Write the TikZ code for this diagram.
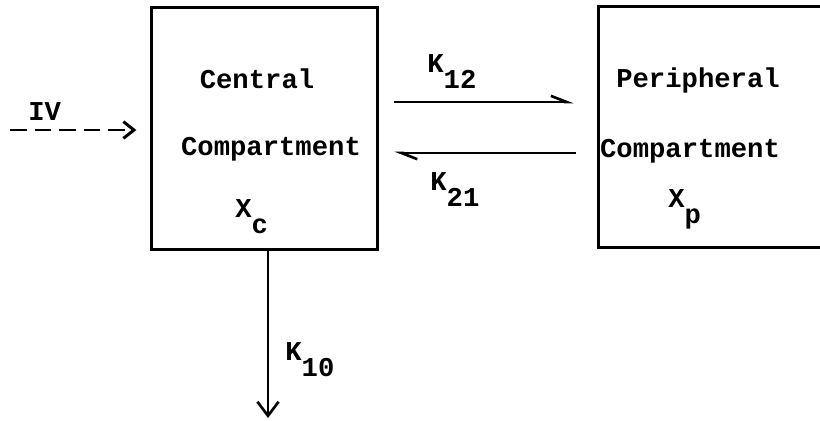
\documentclass[tikz,border=0pt]{standalone}
\usepackage{fontspec}
\setmonofont{Liberation Mono}
\usepackage{tikz}
\usetikzlibrary{positioning}
\usetikzlibrary{arrows.meta}

\newcommand{\lowsub}[1]{\raisebox{-0.62em}{#1}}

\begin{document}
\begin{tikzpicture}[
  x=0.02cm, y=-0.02cm,
  compartment/.style={
    rectangle,
    draw,
    line width=1.7pt,
    minimum width=#1,
    minimum height=4.83cm,
    inner sep=0pt
  },
  txt/.style={font=\fontsize{15.5}{18}\selectfont\ttfamily\bfseries, inner sep=0pt},
  rate/.style={line width=1.5pt, -{Straight Barb[left, length=9pt, width=7pt]}},
  dose/.style={line width=1.5pt, dash pattern=on 9.5pt off 4.5pt, -{Straight Barb[length=6pt, width=9.5pt, line width=1.7pt]}},
  elim/.style={line width=1.5pt, -{Straight Barb[length=8pt, width=12pt]}}
]
\useasboundingbox (0,0) rectangle (820,420);

% Boxes
\node[compartment=4.54cm] (central) at (264.5, 128.5) {};
\node[compartment=4.64cm] (periph) at (714, 127) {};

% Box texts
\node[txt, anchor=base] (ctitle) at (257, 88) {Central};
\node[txt, anchor=base] (cname) at (271, 155) {Compartment};
\node[txt, anchor=base west] (xc) at (235, 217) {X\lowsub{c}};
\node[txt, anchor=base] (ptitle) at (698, 87) {Peripheral};
\node[txt, anchor=base] (pname) at (690, 157) {Compartment};
\node[txt, anchor=base west] (xp) at (668, 207) {X\lowsub{p}};

% Arrows between compartments
\draw[rate, shorten <=8.5pt, shorten >=13pt]
  ([yshift=0.53cm]central.east) -- ([yshift=0.53cm]central.east -| periph.west);
\draw[rate, shorten <=11.5pt, shorten >=8.5pt]
  ([yshift=-0.49cm]central.east -| periph.west) -- ([yshift=-0.49cm]central.east);
\node[txt, anchor=base west] (k12) at (427, 72) {K\lowsub{12}};
\node[txt, anchor=base west] (k21) at (430, 190) {K\lowsub{21}};

% Dose and elimination
\coordinate (iv) at (10, 130);
\draw[dose, shorten >=7.5pt] (iv) -- (iv -| central.west);
\node[txt, anchor=base west] (ivlabel) at (28, 120) {IV};

\coordinate (out) at (268, 418);
\draw[elim] (central.south -| out) -- (out);
\node[txt, anchor=base west] (k10) at (285, 360) {K\lowsub{10}};

\end{tikzpicture}
\end{document}
